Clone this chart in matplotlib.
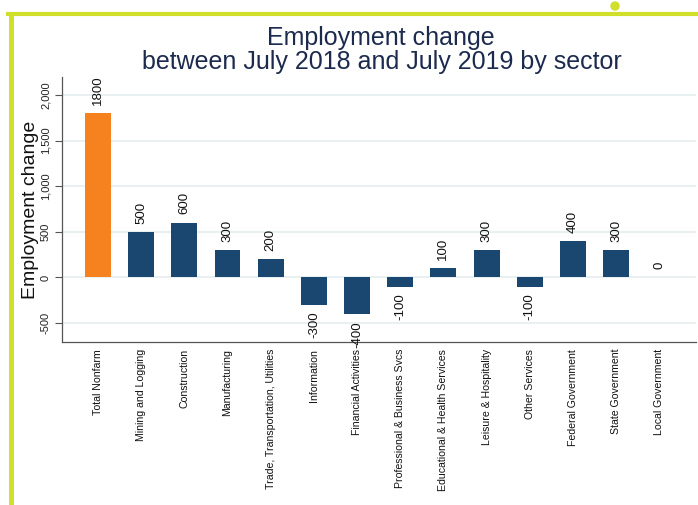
import matplotlib
matplotlib.use("Agg")
import matplotlib.pyplot as plt
from matplotlib.lines import Line2D
from matplotlib.patches import Circle

plt.rcParams['font.family'] = ['Liberation Sans', 'DejaVu Sans']

categories = ["Total Nonfarm", "Mining and Logging", "Construction", "Manufacturing",
              "Trade, Transportation, Utilities", "Information", "Financial Activities",
              "Professional & Business Svcs", "Educational & Health Services",
              "Leisure & Hospitality", "Other Services", "Federal Government",
              "State Government", "Local Government"]
values = [1800, 500, 600, 300, 200, -300, -400, -100, 100, 300, -100, 400, 300, 0]
yticks = [-500, 0, 500, 1000, 1500, 2000]
ytick_labels = ["-500", "0", "500", "1,000", "1,500", "2,000"]

W, H = 698, 505
fig = plt.figure(figsize=(W / 100, H / 100), dpi=100)

def fx(px):
    return px / W

def fy(py):
    return 1 - py / H

ax = fig.add_axes([fx(62), fy(342), fx(696) - fx(62), fy(77) - fy(342)])

navy = '#1a476f'
orange = '#f5821f'
colors = [orange] + [navy] * (len(values) - 1)
x = list(range(len(categories)))
ax.bar(x, values, width=0.6, color=colors, zorder=3)

ax.set_xlim(-0.834, 13.85)
ax.set_ylim(-707, 2197)

for xi, v in zip(x, values):
    if v >= 0:
        ax.annotate(str(v), (xi, v), xytext=(0, 6), textcoords='offset points',
                    rotation=90, ha='center', va='bottom', fontsize=9.5, color='#111111')
    else:
        ax.annotate(str(v), (xi, v), xytext=(0, -5), textcoords='offset points',
                    rotation=90, ha='center', va='top', fontsize=9.5, color='#111111')

ax.set_yticks(yticks)
ax.set_yticklabels(ytick_labels, rotation=90, va='center', fontsize=8, color='#222222')
ax.set_xticks(x)
ax.set_xticklabels(categories, rotation=90, fontsize=7.6, color='#111111')
ax.tick_params(axis='x', length=0, pad=5)
ax.tick_params(axis='y', length=5, width=0.8, color='#555555', pad=3)

ax.grid(axis='y', color='#e4eef0', linewidth=1.2, zorder=0)
ax.set_axisbelow(True)
for s in ['top', 'right']:
    ax.spines[s].set_visible(False)
for s in ['left', 'bottom']:
    ax.spines[s].set_color('#555555')
    ax.spines[s].set_linewidth(0.9)

ax.set_ylabel("Employment change", fontsize=14, color='#111111', labelpad=1)

fig.text(fx(381), fy(38), "Employment change", ha='center', va='center',
         fontsize=18, color='#1c2a4e')
fig.text(fx(382), fy(62), "between July 2018 and July 2019 by sector", ha='center',
         va='center', fontsize=18, color='#1c2a4e')

green = '#cfdf2a'
fig.add_artist(Line2D([fx(8), fx(698)], [fy(14), fy(14)], color=green, linewidth=3,
                      transform=fig.transFigure))
fig.add_artist(Line2D([fx(10.5), fx(10.5)], [fy(12.5), fy(505)], color=green, linewidth=3.5,
                      transform=fig.transFigure, solid_capstyle='butt'))
fig.add_artist(Circle((615, H - 6), 4, color=green, transform=None))

fig.savefig("out.png", dpi=100)
